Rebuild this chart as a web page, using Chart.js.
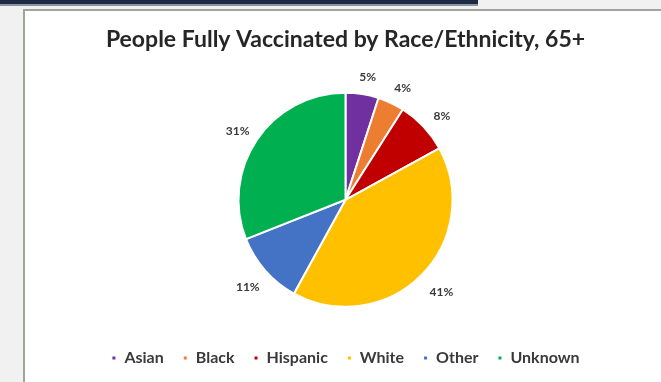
<!DOCTYPE html>
<html>
<head>
<meta charset="utf-8">
<script src="https://cdn.jsdelivr.net/npm/chart.js@4"></script>
<style>
  html, body { margin: 0; padding: 0; width: 661px; height: 382px; overflow: hidden; background: #f1f1f1; }
  #bar { position: absolute; left: 0; top: 0; width: 478px; height: 4px; background: #1d2a44; border-bottom: 2px solid #8a93a0; }
  #box { position: absolute; left: 23px; top: 9px; width: 660px; height: 390px; background: #fff; border: 2px solid #9ea69c; }
  #wrap { position: absolute; left: 0; top: 0; width: 636px; height: 371px; }
</style>
</head>
<body>
<div id="bar"></div>
<div id="box"><div id="wrap"><canvas id="c"></canvas></div></div>
<script>
const titleText = "People Fully Vaccinated by Race/Ethnicity, 65+";
const categories = ["Asian", "Black", "Hispanic", "White", "Other", "Unknown"];
const values = [5, 4, 8, 41, 11, 31];
const colors = ["#7030A0", "#ED7D31", "#C00000", "#FFC000", "#4472C4", "#00B050"];

const outsideLabels = {
  id: 'outsideLabels',
  afterDatasetsDraw(chart) {
    const ctx = chart.ctx;
    const meta = chart.getDatasetMeta(0);
    const total = values.reduce((a, b) => a + b, 0);
    ctx.save();
    ctx.font = "bold 12px Lato";
    ctx.fillStyle = "#3a3a3a";
    ctx.textAlign = "center";
    ctx.textBaseline = "middle";
    meta.data.forEach((arc, i) => {
      const p = arc.getProps(['x', 'y', 'startAngle', 'endAngle', 'outerRadius'], true);
      const mid = (p.startAngle + p.endAngle) / 2;
      const txt = Math.round(values[i] / total * 100) + "%";
      const w = ctx.measureText(txt).width;
      const c = Math.cos(mid), s = Math.sin(mid);
      const r = p.outerRadius + 14;
      ctx.fillText(txt, p.x + c * r + c * w / 2 + 2, p.y + s * r + s * 6 + 3);
    });
    ctx.restore();
  }
};

new Chart(document.getElementById('c'), {
  type: 'pie',
  data: {
    labels: categories,
    datasets: [{
      data: values,
      backgroundColor: colors,
      borderColor: '#ffffff',
      borderWidth: 2,
      radius: 107
    }]
  },
  options: {
    responsive: true,
    maintainAspectRatio: false,
    animation: false,
    layout: { padding: { left: 5, right: 0, top: 0, bottom: 6 } },
    plugins: {
      title: {
        display: true,
        text: titleText,
        color: '#262626',
        font: { family: 'Lato', size: 23, weight: 'bold' },
        padding: { top: 15, bottom: 15 }
      },
      legend: {
        position: 'bottom',
        labels: {
          color: '#3a3a3a',
          font: { family: 'Lato', size: 16, weight: 'bold' },
          boxWidth: 5,
          boxHeight: 5,
          padding: 19
        }
      },
      tooltip: { enabled: false }
    }
  },
  plugins: [outsideLabels]
});
</script>
</body>
</html>
